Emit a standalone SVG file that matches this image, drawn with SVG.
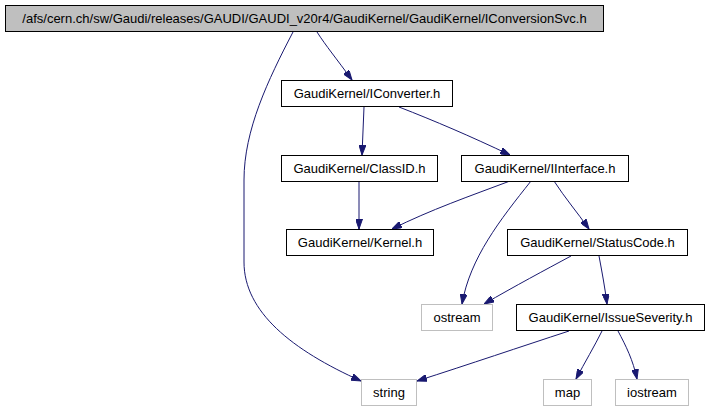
<svg xmlns="http://www.w3.org/2000/svg" width="709" height="410" viewBox="0 0 709 410">
<style>
.n rect{fill:#ffffff;stroke:#000000;stroke-width:1}
.root rect{fill:#bfbfbf;stroke:#000000;stroke-width:1}
.ext rect{fill:#ffffff;stroke:#bfbfbf;stroke-width:1}
text{font-family:"Liberation Sans",Arial,sans-serif;font-size:13px;fill:#000000;text-anchor:middle}
.e path{fill:none;stroke:#191970;stroke-width:1;marker-end:url(#ah)}
</style>
<defs>
<marker id="ah" viewBox="0 0 10 7" refX="10" refY="3.5" markerWidth="10" markerHeight="7" markerUnits="userSpaceOnUse" orient="auto">
<path d="M0,0 L10,3.5 L0,7 z" fill="#191970" stroke="#191970"/>
</marker>
</defs>
<rect width="709" height="410" fill="#ffffff"/>
<g class="e" id="connectors">
<path d="M317,32 C326,46 336,58 352,80"/>
<path d="M293,32 C268,80 244,130 244,180 L244,262 C244,312 292,350 361,381"/>
<path d="M364,107 L362,155"/>
<path d="M399,107 C435,121 470,136 510,155"/>
<path d="M359,181 L359,229"/>
<path d="M510,181 C470,196 430,210 392,229"/>
<path d="M531,181 C500,220 470,258 462,304"/>
<path d="M554,181 C565,198 577,212 589,229"/>
<path d="M571,256 C545,270 515,286 484,304"/>
<path d="M599,256 C602,272 605,288 607,304"/>
<path d="M569,331 C520,347 470,364 417,381"/>
<path d="M602,331 C594,347 585,362 576,379"/>
<path d="M618,331 C626,346 633,360 637,379"/>
</g>
<g id="n_root" class="root"><rect x="5.5" y="5.5" width="598" height="26"/><text x="304.5" y="23">/afs/cern.ch/sw/Gaudi/releases/GAUDI/GAUDI_v20r4/GaudiKernel/GaudiKernel/IConversionSvc.h</text></g>
<g id="n_iconverter" class="n"><rect x="281.5" y="80.5" width="171" height="26"/><text x="367" y="98">GaudiKernel/IConverter.h</text></g>
<g id="n_classid" class="n"><rect x="281.5" y="155.5" width="156" height="26"/><text x="359.5" y="173">GaudiKernel/ClassID.h</text></g>
<g id="n_iinterface" class="n"><rect x="461.5" y="155.5" width="167" height="26"/><text x="545" y="173">GaudiKernel/IInterface.h</text></g>
<g id="n_kernel" class="n"><rect x="286.5" y="229.5" width="147" height="26"/><text x="360" y="247">GaudiKernel/Kernel.h</text></g>
<g id="n_statuscode" class="n"><rect x="507.5" y="229.5" width="180" height="26"/><text x="597.5" y="247">GaudiKernel/StatusCode.h</text></g>
<g id="n_ostream" class="ext"><rect x="421.5" y="304.5" width="71" height="26"/><text x="457" y="322">ostream</text></g>
<g id="n_issueseverity" class="n"><rect x="516.5" y="304.5" width="188" height="26"/><text x="610.5" y="322">GaudiKernel/IssueSeverity.h</text></g>
<g id="n_string" class="ext"><rect x="361.5" y="379.5" width="55" height="26"/><text x="389" y="397">string</text></g>
<g id="n_map" class="ext"><rect x="543.5" y="379.5" width="48" height="26"/><text x="567.5" y="397">map</text></g>
<g id="n_iostream" class="ext"><rect x="615.5" y="379.5" width="73" height="26"/><text x="652" y="397">iostream</text></g>
</svg>
